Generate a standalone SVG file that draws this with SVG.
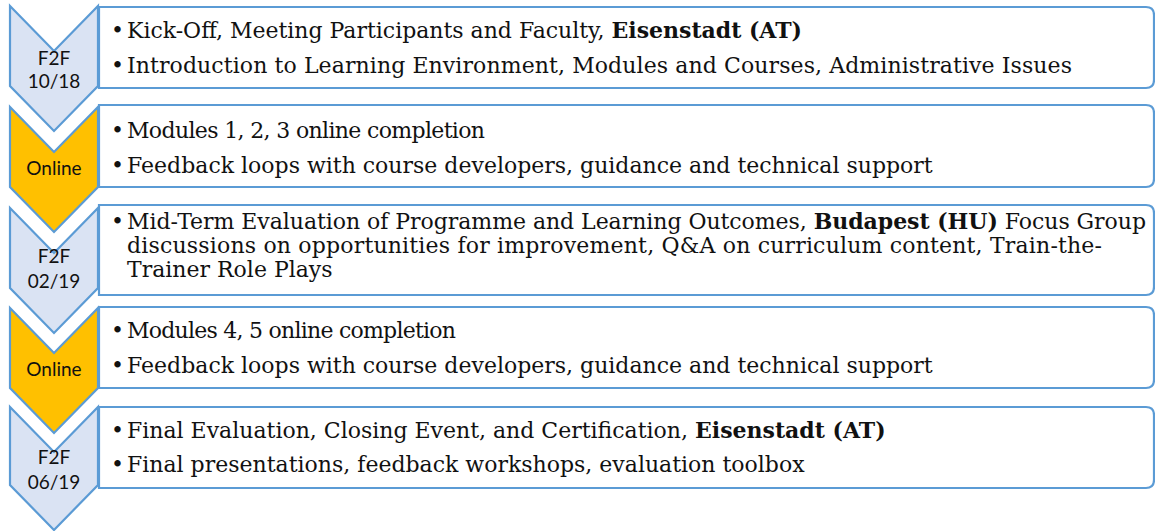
<svg xmlns="http://www.w3.org/2000/svg" width="1155" height="531" viewBox="0 0 1155 531">
<style>
.box{fill:#fff;stroke:#5B9BD5;stroke-width:2.2}
.chev{stroke:#5B9BD5;stroke-width:2.2;stroke-linejoin:miter}
.f2f{fill:#DAE3F3}
.onl{fill:#FFC000}
.lbl{font-family:Lato,"Open Sans","Liberation Sans",sans-serif;font-size:19px;fill:#111;text-anchor:middle}
.t{font-family:"DejaVu Serif","Liberation Serif",serif;font-size:22px;fill:#111}
.b{font-weight:bold}
</style>
<rect width="1155" height="531" fill="#fff"/>
<g id="connectors"></g>
<g id="node1">
<path class="chev f2f" d="M10,6 L54,51 L98,6 L98,86 L54,131 L10,86 Z"/>
<text class="lbl" x="54" y="65">F2F</text>
<text class="lbl" x="54" y="88">10/18</text>
<path class="box" d="M99,7 H1146 Q1154,7 1154,15 V80 Q1154,88 1146,88 H99 Z"/>
<text class="t" x="111" y="38">•</text>
<text class="t" x="127" y="38" textLength="675">Kick-Off, Meeting Participants and Faculty, <tspan class="b">Eisenstadt (AT)</tspan></text>
<text class="t" x="111" y="73">•</text>
<text class="t" x="127" y="73" textLength="945">Introduction to Learning Environment, Modules and Courses, Administrative Issues</text>
</g>
<g id="node2">
<path class="chev onl" d="M10,107 L54,152 L98,107 L98,187 L54,232 L10,187 Z"/>
<text class="lbl" x="54" y="175">Online</text>
<path class="box" d="M99,105 H1146 Q1154,105 1154,113 V179 Q1154,187 1146,187 H99 Z"/>
<text class="t" x="111" y="138">•</text>
<text class="t" x="127" y="138" textLength="358">Modules 1, 2, 3 online completion</text>
<text class="t" x="111" y="173">•</text>
<text class="t" x="127" y="173">Feedback loops with course developers, guidance and technical support</text>
</g>
<g id="node3">
<path class="chev f2f" d="M10,208 L54,253 L98,208 L98,288 L54,333 L10,288 Z"/>
<text class="lbl" x="54" y="263">F2F</text>
<text class="lbl" x="54" y="288">02/19</text>
<path class="box" d="M99,205 H1146 Q1154,205 1154,213 V287 Q1154,295 1146,295 H99 Z"/>
<text class="t" x="111" y="229">•</text>
<text class="t" x="127" y="229" textLength="1019">Mid-Term Evaluation of Programme and Learning Outcomes, <tspan class="b">Budapest (HU)</tspan> Focus Group</text>
<text class="t" x="127" y="253" textLength="975">discussions on opportunities for improvement, Q&amp;A on curriculum content, Train-the-</text>
<text class="t" x="127" y="277">Trainer Role Plays</text>
</g>
<g id="node4">
<path class="chev onl" d="M10,308 L54,353 L98,308 L98,388 L54,433 L10,388 Z"/>
<text class="lbl" x="54" y="376">Online</text>
<path class="box" d="M99,307 H1146 Q1154,307 1154,315 V380 Q1154,388 1146,388 H99 Z"/>
<text class="t" x="111" y="338">•</text>
<text class="t" x="127" y="338" textLength="329">Modules 4, 5 online completion</text>
<text class="t" x="111" y="373">•</text>
<text class="t" x="127" y="373">Feedback loops with course developers, guidance and technical support</text>
</g>
<g id="node5">
<path class="chev f2f" d="M10,407 L54,452 L98,407 L98,485 L54,530 L10,485 Z"/>
<text class="lbl" x="54" y="464">F2F</text>
<text class="lbl" x="54" y="489">06/19</text>
<path class="box" d="M99,407 H1146 Q1154,407 1154,415 V480 Q1154,488 1146,488 H99 Z"/>
<text class="t" x="111" y="438">•</text>
<text class="t" x="127" y="438">Final Evaluation, Closing Event, and Certification, <tspan class="b">Eisenstadt (AT)</tspan></text>
<text class="t" x="111" y="472">•</text>
<text class="t" x="127" y="472">Final presentations, feedback workshops, evaluation toolbox</text>
</g>
</svg>
